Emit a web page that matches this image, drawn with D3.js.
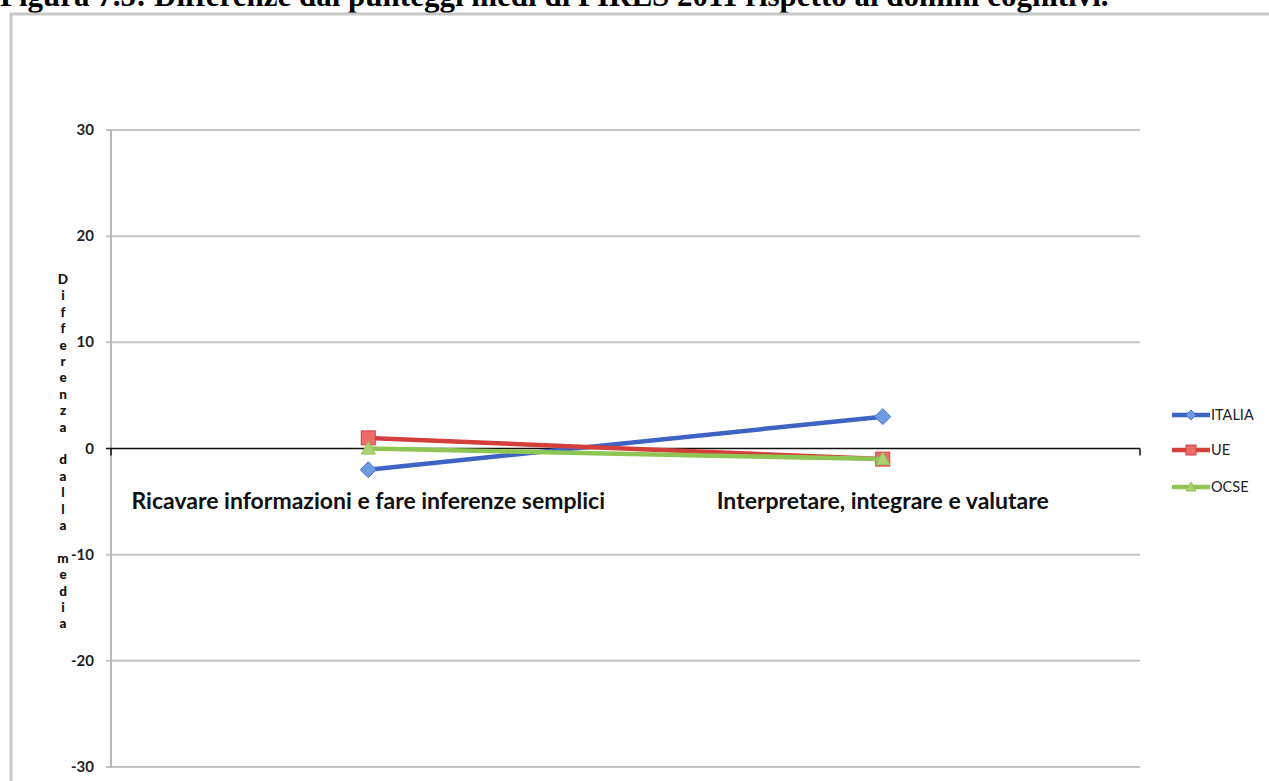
<!DOCTYPE html>
<html><head><meta charset="utf-8">
<script src="https://cdn.jsdelivr.net/npm/d3@7"></script>
<style>body{margin:0;background:#fff;overflow:hidden}svg{display:block}</style>
</head><body>
<svg id="chart" width="1269" height="781"></svg>
<script>
const titleText = "Figura 7.5: Differenze dai punteggi medi di PIRLS 2011 rispetto ai domini cognitivi.";
const categories = ["Ricavare informazioni e fare inferenze semplici", "Interpretare, integrare e valutare"];
const seriesNames = ["ITALIA", "UE", "OCSE"];
const italia = [-2, 3];
const ue = [1, -1];
const ocse = [0, -1];
const yTicks = [-30, -20, -10, 0, 10, 20, 30];
const yTitle = "Differenza dalla media";

const series = [
  {name: seriesNames[0], values: italia, line: "#3d63c4", fill: "#6e9ce0", stroke: "#4a74d0", shape: "diamond"},
  {name: seriesNames[1], values: ue, line: "#d3403c", fill: "#ec6d6a", stroke: "#d4403c", shape: "square"},
  {name: seriesNames[2], values: ocse, line: "#8fc653", fill: "#a9d46f", stroke: "#8fc653", shape: "triangle"}
];

const svg = d3.select("#chart");
const font = "Lato, 'Open Sans', sans-serif";

// title
svg.append("text").attr("x", 0).attr("y", 6)
  .attr("font-family", "'Liberation Serif', 'Times New Roman', serif")
  .attr("font-weight", "bold").attr("font-size", 31).attr("fill", "#000")
  .text(titleText);

// frame
svg.append("rect").attr("x", 11).attr("y", 14).attr("width", 1300).attr("height", 900)
  .attr("fill", "none").attr("stroke", "#c8c8c8").attr("stroke-width", 3);

const x = d3.scaleBand().domain(categories).range([111, 1140]);
const y = d3.scaleLinear().domain([-30, 30]).range([767, 130]);
const cx = c => x(c) + x.bandwidth() / 2;

// gridlines
svg.append("g").selectAll("line").data(yTicks.filter(t => t !== 0)).join("line")
  .attr("x1", 106).attr("x2", 1140).attr("y1", d => y(d)).attr("y2", d => y(d))
  .attr("stroke", "#c3c3c3").attr("stroke-width", 2);

// y axis line
svg.append("line").attr("x1", 111).attr("x2", 111).attr("y1", y(30)).attr("y2", y(-30))
  .attr("stroke", "#b8b8b8").attr("stroke-width", 2);

// y tick labels
svg.append("g").selectAll("text").data(yTicks).join("text")
  .attr("x", 94).attr("y", d => y(d) + 5).attr("text-anchor", "end")
  .attr("font-family", font).attr("font-weight", "bold").attr("font-size", 15).attr("fill", "#222")
  .text(d => d);

// zero line (category axis)
svg.append("line").attr("x1", 106).attr("x2", 1140).attr("y1", y(0)).attr("y2", y(0))
  .attr("stroke", "#111").attr("stroke-width", 1.5);
svg.append("g").selectAll("line").data([111, 1140]).join("line")
  .attr("x1", d => d).attr("x2", d => d).attr("y1", y(0)).attr("y2", y(0) + 7)
  .attr("stroke", "#111").attr("stroke-width", 1.5);

// category labels
svg.append("g").selectAll("text").data(categories).join("text")
  .attr("x", d => cx(d)).attr("y", 509).attr("text-anchor", "middle")
  .attr("font-family", font).attr("font-weight", "bold").attr("font-size", 23).attr("fill", "#111")
  .text(d => d);

// y title stacked letters
const letters = yTitle.split("");
svg.append("g").selectAll("text").data(letters).join("text")
  .attr("x", 63).attr("y", (d, i) => 284 + i * 16.4).attr("text-anchor", "middle")
  .attr("font-family", font).attr("font-weight", "900").attr("font-size", 13.5).attr("fill", "#111")
  .text(d => d === " " ? "" : d);

function marker(g, shape, px, py, s, fill, stroke) {
  if (shape === "diamond") {
    g.append("path").attr("d", `M${px},${py - s}L${px + s},${py}L${px},${py + s}L${px - s},${py}Z`)
      .attr("fill", fill).attr("stroke", stroke).attr("stroke-width", 1);
  } else if (shape === "square") {
    g.append("rect").attr("x", px - s).attr("y", py - s).attr("width", 2 * s).attr("height", 2 * s)
      .attr("fill", fill).attr("stroke", stroke).attr("stroke-width", 1);
  } else {
    g.append("path").attr("d", `M${px},${py - s}L${px + s},${py + s * 0.8}L${px - s},${py + s * 0.8}Z`)
      .attr("fill", fill).attr("stroke", stroke).attr("stroke-width", 1);
  }
}

const line = d3.line().x((d, i) => cx(categories[i])).y(d => y(d));
series.forEach(s => {
  const g = svg.append("g");
  g.append("path").attr("d", line(s.values)).attr("fill", "none")
    .attr("stroke", s.line).attr("stroke-width", 4.5);
  s.values.forEach((v, i) => {
    const sz = s.shape === "diamond" ? 8 : 7;
    marker(g, s.shape, cx(categories[i]), y(v), sz, s.fill, s.stroke);
  });
});

// legend
const legY = [415, 450, 487];
series.forEach((s, i) => {
  const g = svg.append("g");
  g.append("line").attr("x1", 1172).attr("x2", 1210).attr("y1", legY[i]).attr("y2", legY[i])
    .attr("stroke", s.line).attr("stroke-width", 4.5);
  marker(g, s.shape, 1191, legY[i], 5, s.fill, s.stroke);
  g.append("text").attr("x", 1211).attr("y", legY[i] + 5)
    .attr("font-family", font).attr("font-size", 14.5).attr("fill", "#222").text(s.name);
});
</script>
</body></html>
